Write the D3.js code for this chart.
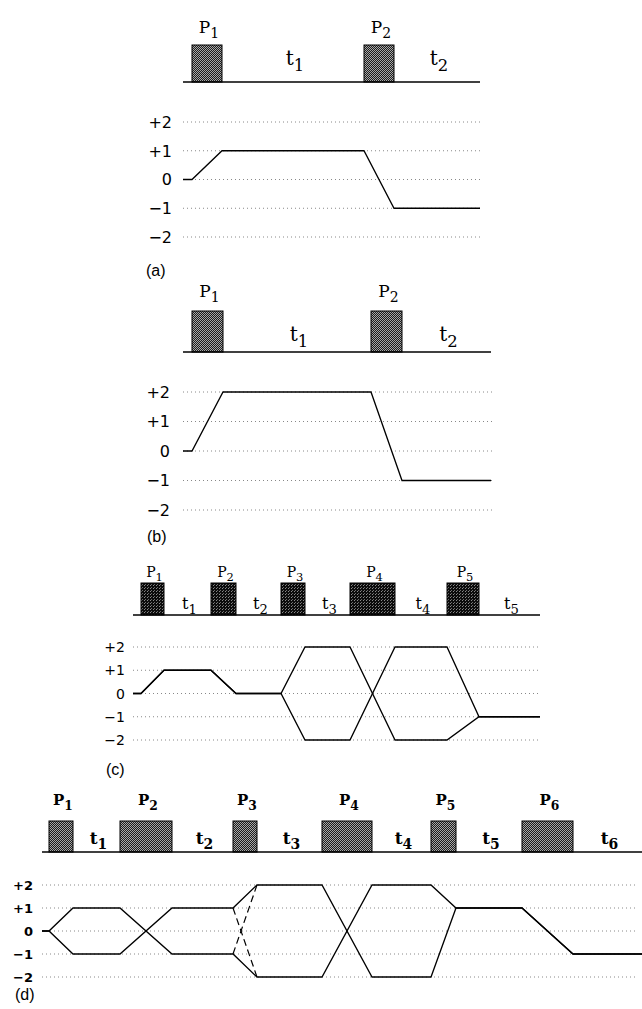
<!DOCTYPE html>
<html>
<head>
<meta charset="utf-8">
<script src="https://cdn.jsdelivr.net/npm/d3@7"></script>
<style>
  body { margin: 0; background: #fff; }
  svg { display: block; }
</style>
</head>
<body>
<svg id="chart"></svg>
<script>
const width = 642
const height = 1009

// coherence orders shown on every level diagram
const levels = [2, 1, 0, -1, -2]
const levelLabels = ["+2", "+1", "0", "\u22121", "\u22122"]

// (a) pulse start/end in time units, total length, pathways (order in each delay)
const aPulses = [[9, 39], [181, 211]]
const aEnd = 297
const aPaths = [[0, 1, -1]]

// (b)
const bPulses = [[9, 40], [188, 219]]
const bEnd = 308
const bPaths = [[0, 2, -1]]

// (c)
const cPulses = [[8, 31], [78, 103], [148, 172], [217, 262], [314, 346]]
const cEnd = 407
const cPaths = [[0, 1, 0, 2, -2, -1], [0, 1, 0, -2, 2, -1]]

// (d)
const dPulses = [[7, 31], [78, 130], [191, 215], [280, 330], [389, 414], [480, 531]]
const dEnd = 600
const dPaths = [[0, 1, -1, -2, 2, 1, -1], [0, -1, 1, 2, -2, 1, -1]]
// alternative (dashed) transfers: [pulse index, order before, order after]
const dDashed = [[2, 1, -2], [2, -1, 2]]

const panels = [
  { name: "(a)", pulses: aPulses, end: aEnd, paths: aPaths, dashed: [],
    x0: 183, x1: 480, gridX1: 482, baseY: 82, pulseTop: 45, yTop: 122, yBot: 237,
    pY: 33, tY: 65, tickX: 172, tickSize: 16, labSize: 17, bold: false,
    tag: [146, 276], fill: "url(#stip)" },
  { name: "(b)", pulses: bPulses, end: bEnd, paths: bPaths, dashed: [],
    x0: 183, x1: 491, gridX1: 492, baseY: 352, pulseTop: 311, yTop: 392, yBot: 510,
    pY: 297, tY: 341, tickX: 170, tickSize: 16, labSize: 17, bold: false,
    tag: [147, 542], fill: "url(#stip)" },
  { name: "(c)", pulses: cPulses, end: cEnd, paths: cPaths, dashed: [],
    x0: 133, x1: 540, gridX1: 538, baseY: 615, pulseTop: 583, yTop: 647, yBot: 740,
    pY: 577, tY: 609, tickX: 125, tickSize: 14, labSize: 14, bold: false,
    tag: [106, 775], fill: "url(#stipDark)" },
  { name: "(d)", pulses: dPulses, end: dEnd, paths: dPaths, dashed: dDashed,
    x0: 42, x1: 642, gridX1: 637, baseY: 852, pulseTop: 821, yTop: 885, yBot: 977,
    pY: 805, tY: 844, tickX: 33, tickSize: 13, labSize: 15, bold: true,
    tag: [15, 1000], fill: "url(#stip)" }
]

const svg = d3.select("#chart")
              .attr("width", width)
              .attr("height", height)
              .attr("viewBox", [0, 0, width, height])

svg.append("rect").attr("width", width).attr("height", height).attr("fill", "#fff")

const defs = svg.append("defs")
const pat = defs.append("pattern").attr("id", "stip")
                .attr("width", 2).attr("height", 2)
                .attr("patternUnits", "userSpaceOnUse")
pat.append("rect").attr("width", 2).attr("height", 2).attr("fill", "#1e1e1e")
pat.append("rect").attr("width", 1).attr("height", 1).attr("fill", "#a8a8a8")
pat.append("rect").attr("x", 1).attr("y", 1).attr("width", 1).attr("height", 1).attr("fill", "#a8a8a8")

const pat2 = defs.append("pattern").attr("id", "stipDark")
                 .attr("width", 3).attr("height", 3)
                 .attr("patternUnits", "userSpaceOnUse")
pat2.append("rect").attr("width", 3).attr("height", 3).attr("fill", "#0c0c0c")
pat2.append("rect").attr("width", 1).attr("height", 1).attr("fill", "#8a8a8a")
pat2.append("rect").attr("x", 1).attr("y", 2).attr("width", 1).attr("height", 1).attr("fill", "#6a6a6a")

const serif = "'DejaVu Serif', 'Liberation Serif', serif"
const sans = "'DejaVu Sans', 'Liberation Sans', sans-serif"

function subLabel(g, x, y, main, sub, size, bold) {
  const t = g.append("text")
             .attr("x", x).attr("y", y)
             .attr("text-anchor", "middle")
             .attr("font-family", serif)
             .attr("font-size", size)
             .attr("font-weight", bold ? "bold" : "normal")
  t.append("tspan").text(main)
  t.append("tspan").attr("dy", size * 0.3).attr("font-size", size * 0.82).text(sub)
}

panels.forEach(p => {
  const g = svg.append("g")
  const x = d3.scaleLinear().domain([0, p.end]).range([p.x0, p.x1])
  const y = d3.scaleLinear().domain([2, -2]).range([p.yTop, p.yBot])
  const gx = d3.scaleLinear().domain([0, p.end]).range([p.x0, p.gridX1])

  // dotted level lines
  g.append("g").selectAll("line")
   .data(levels)
   .join("line")
     .attr("x1", p.x0).attr("x2", gx(p.end))
     .attr("y1", d => y(d)).attr("y2", d => y(d))
     .attr("stroke", "#888")
     .attr("stroke-width", 1)
     .attr("stroke-dasharray", "1,3")

  // level labels
  g.append("g").selectAll("text")
   .data(levels)
   .join("text")
     .attr("x", p.tickX)
     .attr("y", d => y(d))
     .attr("dy", "0.36em")
     .attr("text-anchor", "end")
     .attr("font-family", sans)
     .attr("font-size", p.tickSize)
     .attr("font-weight", p.bold ? "bold" : "normal")
     .text((d, i) => levelLabels[i])

  // pulses
  g.append("g").selectAll("rect")
   .data(p.pulses)
   .join("rect")
     .attr("x", d => x(d[0]))
     .attr("y", p.pulseTop)
     .attr("width", d => x(d[1]) - x(d[0]))
     .attr("height", p.baseY - p.pulseTop)
     .attr("fill", p.fill)
     .attr("stroke", "#000")
     .attr("stroke-width", 1)

  // time axis line
  g.append("line")
   .attr("x1", x(0)).attr("x2", x(p.end))
   .attr("y1", p.baseY).attr("y2", p.baseY)
   .attr("stroke", "#000").attr("stroke-width", 1.3)

  // pulse and delay labels
  p.pulses.forEach((d, i) => {
    subLabel(g, (x(d[0]) + x(d[1])) / 2 + 2, p.pY, "P", String(i + 1), p.labSize, p.bold)
    const next = i + 1 < p.pulses.length ? p.pulses[i + 1][0] : p.end
    subLabel(g, (x(d[1]) + x(next)) / 2 + 2, p.tY, "t", String(i + 1), Math.round(p.labSize * 1.15), p.bold)
  })

  // coherence transfer pathways
  const line = d3.line().x(d => x(d[0])).y(d => y(d[1]))
  p.paths.forEach(orders => {
    const pts = [[0, orders[0]]]
    p.pulses.forEach((d, i) => {
      pts.push([d[0], orders[i]])
      pts.push([d[1], orders[i + 1]])
    })
    pts.push([p.end, orders[orders.length - 1]])
    g.append("path")
     .attr("d", line(pts))
     .attr("fill", "none")
     .attr("stroke", "#000")
     .attr("stroke-width", 1.3)
  })
  p.dashed.forEach(([k, from, to]) => {
    const d = p.pulses[k]
    g.append("path")
     .attr("d", line([[d[0], from], [d[1], to]]))
     .attr("fill", "none")
     .attr("stroke", "#000")
     .attr("stroke-width", 1.2)
     .attr("stroke-dasharray", "7,4")
  })

  // panel tag
  g.append("text")
   .attr("x", p.tag[0]).attr("y", p.tag[1])
   .attr("font-family", "'Liberation Sans', Arial, sans-serif")
   .attr("font-size", 16)
   .text(p.name)
})
</script>
</body>
</html>
